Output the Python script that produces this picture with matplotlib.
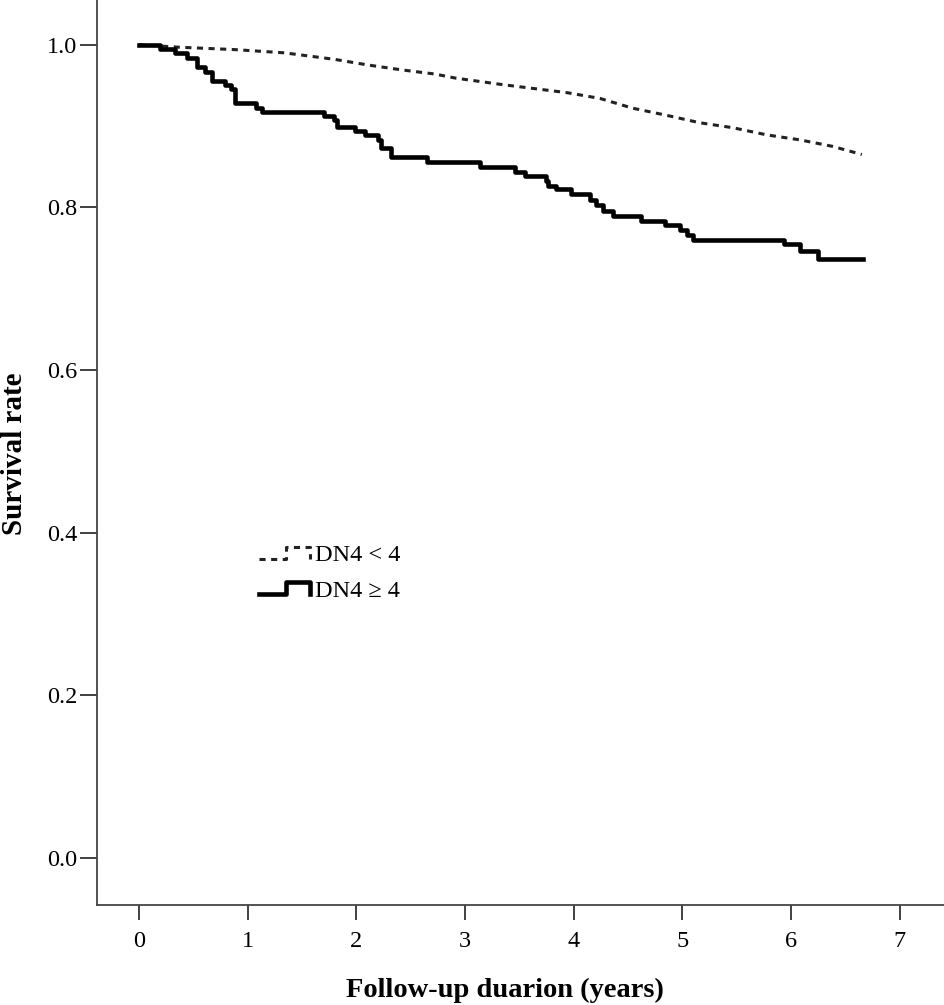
import numpy as np
import matplotlib
matplotlib.use("Agg")
import matplotlib.pyplot as plt
from matplotlib.lines import Line2D
from matplotlib.legend_handler import HandlerLine2D

# Kaplan-Meier curves (time in years, survival rate)
t_low = [0, 0.36, 0.88, 1.34, 1.80, 2.11, 2.42, 2.72, 2.91, 3.34, 3.94, 4.24,
         4.54, 4.86, 5.16, 5.46, 5.78, 6.08, 6.38, 6.65]
s_low = [1.0, 0.997, 0.994, 0.990, 0.982, 0.975, 0.969, 0.964, 0.959, 0.951,
         0.941, 0.934, 0.922, 0.913, 0.904, 0.898, 0.889, 0.883, 0.875, 0.865]

t_high = [0, 0.19, 0.33, 0.44, 0.53, 0.61, 0.67, 0.79, 0.85, 0.88, 1.08, 1.13,
          1.70, 1.79, 1.82, 1.99, 2.08, 2.20, 2.23, 2.32, 2.65, 3.14, 3.46, 3.55,
          3.74, 3.76, 3.84, 3.97, 4.15, 4.20, 4.27, 4.36, 4.62, 4.84, 4.98, 5.04,
          5.10, 5.93, 6.08, 6.25, 6.66]
s_high = [1.0, 0.995, 0.990, 0.984, 0.973, 0.967, 0.955, 0.951, 0.945, 0.928,
          0.922, 0.917, 0.912, 0.908, 0.899, 0.894, 0.889, 0.883, 0.873, 0.862,
          0.856, 0.850, 0.844, 0.838, 0.832, 0.826, 0.822, 0.816, 0.809, 0.803,
          0.796, 0.789, 0.783, 0.778, 0.772, 0.766, 0.760, 0.755, 0.746, 0.736,
          0.736]

labels = ["DN4 < 4", "DN4 \u2265 4"]
xticks = [0, 1, 2, 3, 4, 5, 6, 7]
yticks = [0.0, 0.2, 0.4, 0.6, 0.8, 1.0]

serif = ["Liberation Serif", "DejaVu Serif"]
plt.rcParams["font.family"] = serif


class StepHandler(HandlerLine2D):
    # draws the little step-shaped legend keys
    def create_artists(self, legend, orig_handle, xdescent, ydescent,
                       width, height, fontsize, trans):
        xs = np.array([0, 0.5, 0.5, 0.95, 0.95]) * width - xdescent
        ys = np.array([0.15, 0.15, 0.85, 0.85, 0.15]) * height - ydescent
        line = Line2D(xs, ys)
        self.update_prop(line, orig_handle, legend)
        line.set_transform(trans)
        return [line]


fig = plt.figure(figsize=(9.45, 10.05), dpi=100)
ax = fig.add_axes([97 / 945, 1 - 905 / 1005, 1 - 97 / 945, 905 / 1005])

# the low-score curve has so many tiny steps it reads as a dotted slope
ax.plot(t_low, s_low, color="#222222", lw=2.2,
        linestyle=(0, (2.0, 1.8)), label=labels[0])
ax.plot(t_high, s_high, drawstyle="steps-post", color="black", lw=3.3,
        label=labels[1])

ax.set_xlim(-0.386, 7.415)
ax.set_ylim(-0.058, 1.055)
ax.set_xticks(xticks)
ax.set_yticks(yticks)
ax.set_xticklabels([str(v) for v in xticks])
ax.set_yticklabels([f"{v:.1f}" for v in yticks])

for side in ["top", "right"]:
    ax.spines[side].set_visible(False)
for side in ["left", "bottom"]:
    ax.spines[side].set_color("#444444")
    ax.spines[side].set_linewidth(1.3)

ax.tick_params(axis="y", length=12, width=1.3, color="#333333", pad=2,
               labelsize=17.5)
ax.tick_params(axis="x", length=11, width=1.3, color="#333333", pad=8,
               labelsize=17.5)

ax.legend(handler_map={Line2D: StepHandler()}, loc="upper left",
          bbox_to_anchor=(0.177, 0.412), frameon=False, fontsize=17.5,
          handlelength=2.2, handletextpad=0.1, borderpad=0, labelspacing=0.55)

fig.text(15 / 945, 1 - 454 / 1005, "Survival rate", rotation=90,
         ha="center", va="center", fontsize=21, fontweight="bold")
fig.text(505 / 945, 1 - 990 / 1005, "Follow-up duarion (years)",
         ha="center", va="center", fontsize=20.5, fontweight="bold")

fig.savefig("out.png", dpi=100)
